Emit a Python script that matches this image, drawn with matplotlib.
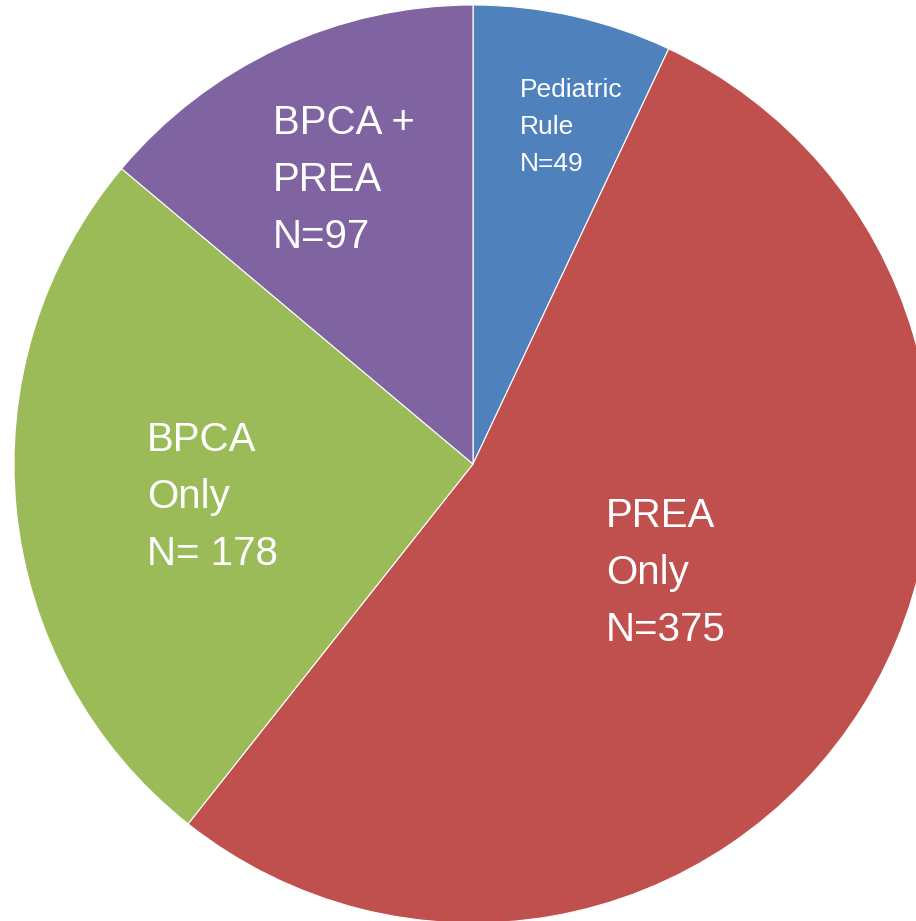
import matplotlib.pyplot as plt

labels = ["Pediatric\nRule\nN=49", "PREA\nOnly\nN=375", "BPCA\nOnly\nN= 178", "BPCA +\nPREA\nN=97"]
values = [49, 375, 178, 97]
colors = ["#4F81BD", "#C0504D", "#9BBB59", "#8064A2"]

W, H = 916, 921
fig = plt.figure(figsize=(W / 100, H / 100), dpi=100)
ax = fig.add_axes([0, 0, 1, 1])

cx, cy, r = 473, H - 464, 459
wedges, _ = ax.pie(values, colors=colors, startangle=90, counterclock=False,
                   center=(cx, cy), radius=r,
                   wedgeprops=dict(edgecolor="white", linewidth=0.8))
ax.set_xlim(0, W)
ax.set_ylim(0, H)
ax.set_aspect("auto")
ax.axis("off")

# label positions (left edge, middle line centre) in pixels from top-left
label_pos = [(520, 127), (606, 573), (147, 497), (273, 180)]
label_size = [19, 29, 29, 29]
spacing = [1.7, 1.62, 1.62, 1.62]
for text, (x, y), fs, ls in zip(labels, label_pos, label_size, spacing):
    ax.text(x, H - y, text, color="white", fontsize=fs, ha="left", va="center",
            family="Liberation Sans", linespacing=ls)

fig.savefig("out.png", dpi=100)
